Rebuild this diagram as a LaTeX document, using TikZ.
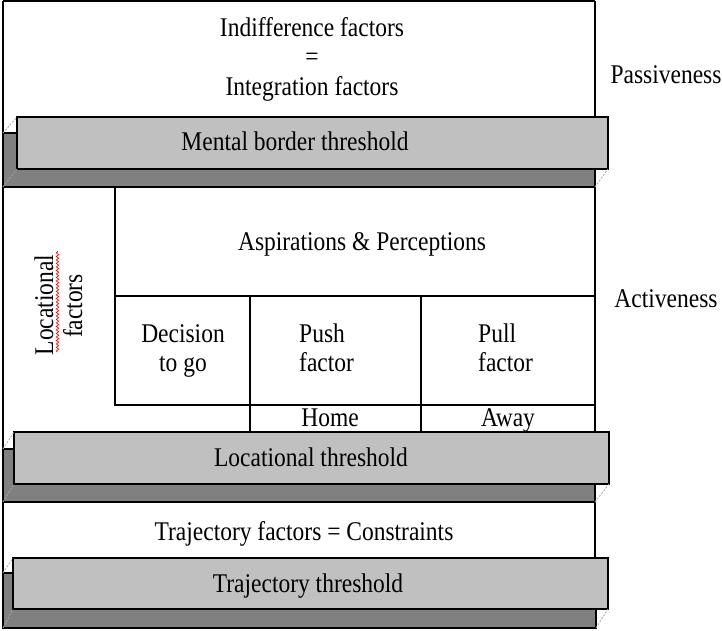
\documentclass[tikz,border=0pt]{standalone}
\usepackage{fontspec}
\newfontfamily\diagfont[FakeStretch=0.87]{Liberation Serif}
\usetikzlibrary{decorations.pathmorphing}
\definecolor{lightg}{HTML}{C0C0C0}
\definecolor{darkg}{HTML}{808080}
\begin{document}
\begin{tikzpicture}[x=1pt,y=-1pt,
  lbl/.style={font=\diagfont\fontsize{27}{30}\selectfont, inner sep=0pt, anchor=base},
  frame/.style={line width=1.3pt},
  gridline/.style={line width=2.2pt},
  frontface/.style={fill=lightg, draw=black, line width=1.3pt},
  backface/.style={fill=darkg, draw=black, line width=1.3pt},
  hid/.style={draw=gray!70, dash pattern=on 2pt off 1.5pt, line width=0.8pt}]
\useasboundingbox (0,0) rectangle (722,630);

% outer frame
\draw[frame] (3,1) -- (595,1);
\draw[frame] (3,1) -- (3,628);
\draw[frame] (595,1) -- (595,628);

% middle table
\draw[gridline] (115,187) -- (115,405) -- (595,405);
\draw[gridline] (115,296) -- (595,296);
\draw[gridline] (250,296) -- (250,432);
\draw[gridline] (421,296) -- (421,432);

% mental border bar
\draw[backface] (3,133) rectangle (595,187);
\draw[frontface] (17,117) rectangle (608,169);
\draw[hid] (3,133) -- (17,117);
\draw[hid] (3,187) -- (17,169);
\draw[hid] (595,187) -- (608,169);

% locational bar
\draw[backface] (3,449) rectangle (595,502);
\draw[frontface] (14,432) rectangle (609,484);
\draw[hid] (3,449) -- (14,432);
\draw[hid] (3,502) -- (14,484);
\draw[hid] (595,502) -- (609,484);

% trajectory bar
\draw[backface] (3,573) rectangle (596,628);
\draw[frontface] (13,558) rectangle (608,609);
\draw[hid] (3,573) -- (13,558);
\draw[hid] (3,628) -- (13,609);
\draw[hid] (596,628) -- (608,609);

% texts
\node[lbl] (ind) at (312,36) {Indifference factors};
\node[lbl] (eq) at (312,65.5) {=};
\node[lbl] (integ) at (312,95) {Integration factors};
\node[lbl] (mental) at (295,150) {Mental border threshold};
\node[lbl] (asp) at (362,250) {Aspirations \& Perceptions};
\node[lbl] (dec1) at (183,342) {Decision};
\node[lbl] (dec2) at (183,371) {to go};
\node[lbl, anchor=base west] (push1) at (299,342) {Push};
\node[lbl, anchor=base west] (push2) at (299,371) {factor};
\node[lbl, anchor=base west] (pull1) at (478,342) {Pull};
\node[lbl, anchor=base west] (pull2) at (478,371) {factor};
\node[lbl] (home) at (330,426) {Home};
\node[lbl] (away) at (508,426) {Away};
\node[lbl] (locth) at (311,466) {Locational threshold};
\node[lbl] (traj) at (304,540) {Trajectory factors = Constraints};
\node[lbl] (trajth) at (308,592) {Trajectory threshold};
\node[lbl] (pass) at (666,83) {Passiveness};
\node[lbl] (act) at (666,307) {Activeness};
\node[lbl, rotate=90] (loc1) at (53,305) {Locational};
\node[lbl, rotate=90] (loc2) at (82,306) {factors};
\draw[red, line width=0.7pt, decorate, decoration={snake, amplitude=1.2pt, segment length=3.5pt}] (57.5,352) -- (57.5,251);
\end{tikzpicture}
\end{document}
